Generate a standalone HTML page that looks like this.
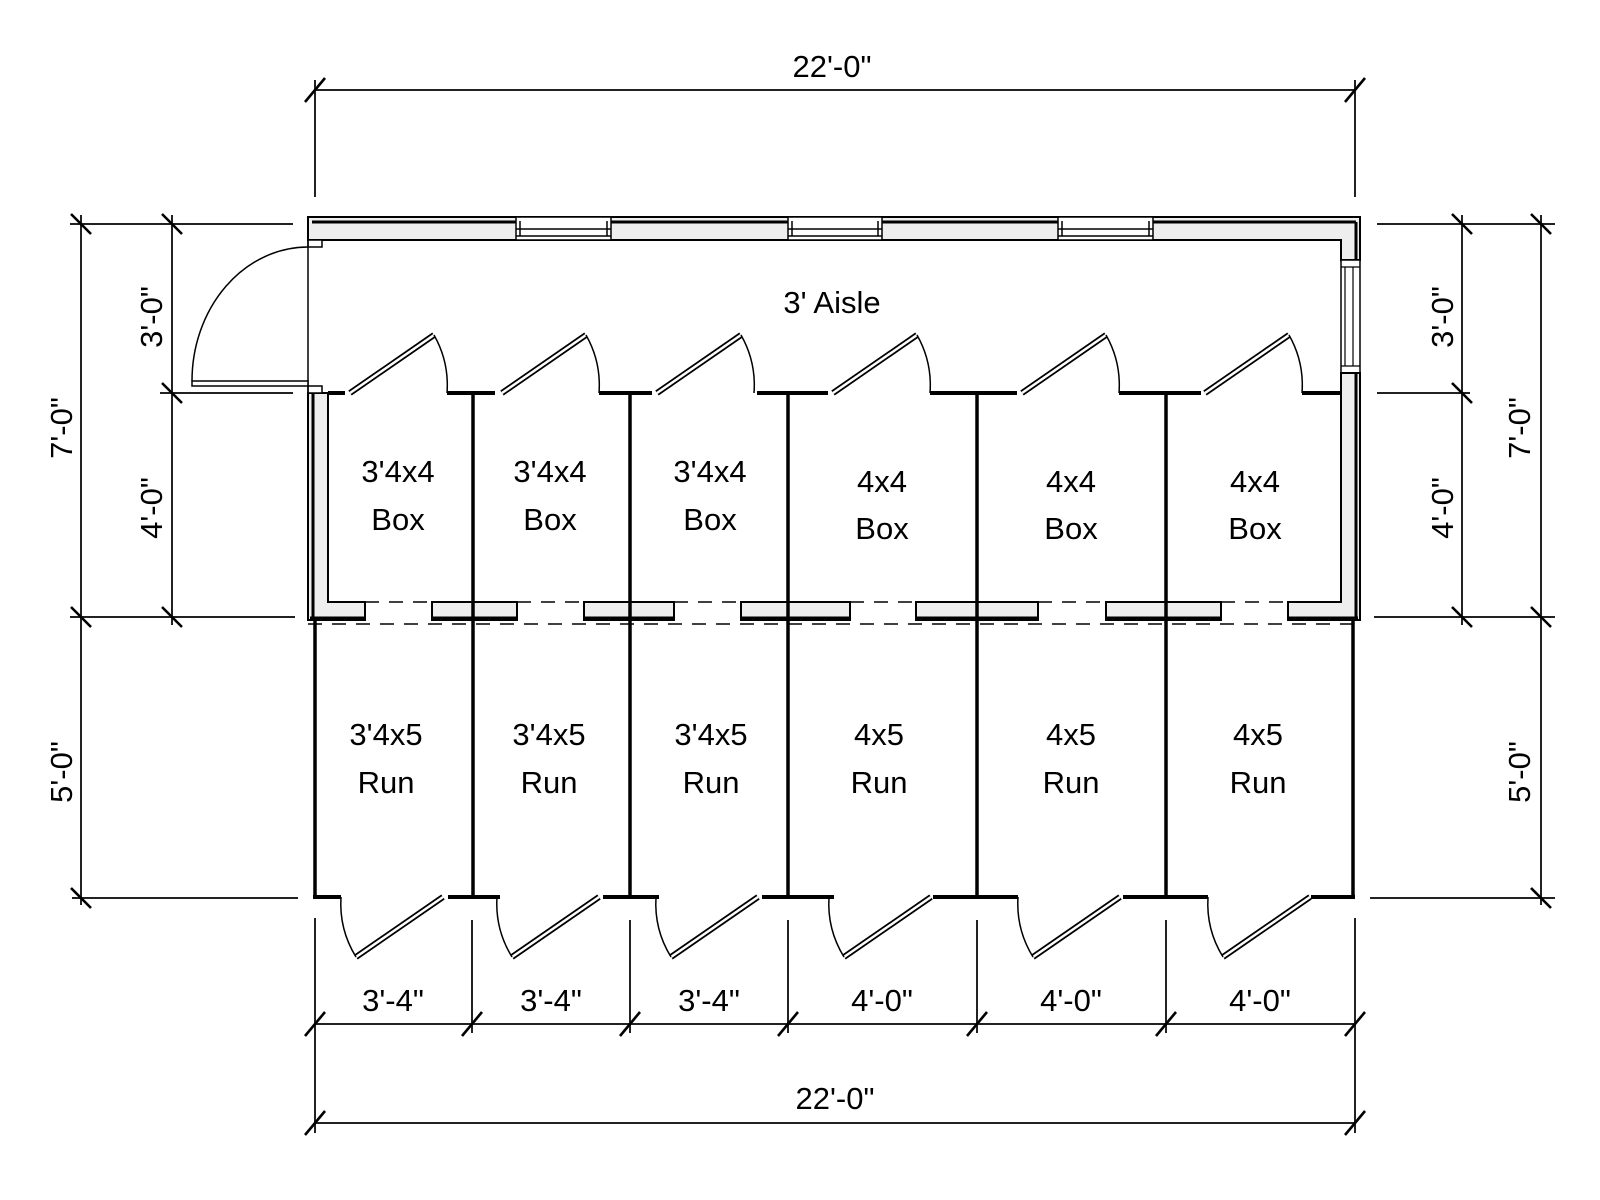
<!DOCTYPE html>
<html><head><meta charset="utf-8"><style>
html,body{margin:0;padding:0;background:#fff;}
svg{display:block;}
text{font-family:"Liberation Sans",sans-serif;fill:#000;}
</style></head><body>
<svg width="1600" height="1200" viewBox="0 0 1600 1200" xmlns="http://www.w3.org/2000/svg">
<g stroke="#222" stroke-width="2" fill="none">
<!-- top dim -->
<line x1="315" y1="90" x2="1355" y2="90"/>
<line x1="315" y1="80" x2="315" y2="197"/>
<line x1="1355" y1="80" x2="1355" y2="197"/>
<!-- left dims -->
<line x1="81" y1="215" x2="81" y2="905"/>
<line x1="172" y1="215" x2="172" y2="625"/>
<line x1="70" y1="224" x2="293" y2="224"/>
<line x1="160" y1="393" x2="293" y2="393"/>
<line x1="70" y1="617" x2="295" y2="617"/>
<line x1="72" y1="898" x2="298" y2="898"/>
<!-- right dims -->
<line x1="1462" y1="215" x2="1462" y2="625"/>
<line x1="1541" y1="215" x2="1541" y2="905"/>
<line x1="1377" y1="224" x2="1555" y2="224"/>
<line x1="1377" y1="393" x2="1470" y2="393"/>
<line x1="1374" y1="617" x2="1555" y2="617"/>
<line x1="1370" y1="898" x2="1555" y2="898"/>
<!-- bottom dims -->
<line x1="315" y1="1024" x2="1355" y2="1024"/>
<line x1="315" y1="1123" x2="1355" y2="1123"/>
<line x1="315" y1="918" x2="315" y2="1133"/>
<line x1="1355" y1="918" x2="1355" y2="1133"/>
<line x1="472" y1="920" x2="472" y2="1033"/>
<line x1="630" y1="920" x2="630" y2="1033"/>
<line x1="788" y1="920" x2="788" y2="1033"/>
<line x1="977" y1="920" x2="977" y2="1033"/>
<line x1="1166" y1="920" x2="1166" y2="1033"/>
</g>
<!-- ticks -->
<g stroke="#000" stroke-width="2.6">
<line x1="305" y1="102" x2="325" y2="78"/><line x1="1345" y1="102" x2="1365" y2="78"/>
<g id="bt">
<line x1="305" y1="1036" x2="325" y2="1012"/><line x1="462" y1="1036" x2="482" y2="1012"/><line x1="620" y1="1036" x2="640" y2="1012"/><line x1="778" y1="1036" x2="798" y2="1012"/><line x1="967" y1="1036" x2="987" y2="1012"/><line x1="1156" y1="1036" x2="1176" y2="1012"/><line x1="1345" y1="1036" x2="1365" y2="1012"/>
</g>
<line x1="305" y1="1135" x2="325" y2="1111"/><line x1="1345" y1="1135" x2="1365" y2="1111"/>
<line x1="71" y1="214" x2="91" y2="234"/><line x1="71" y1="607" x2="91" y2="627"/><line x1="71" y1="888" x2="91" y2="908"/>
<line x1="162" y1="214" x2="182" y2="234"/><line x1="162" y1="383" x2="182" y2="403"/><line x1="162" y1="607" x2="182" y2="627"/>
<line x1="1452" y1="214" x2="1472" y2="234"/><line x1="1452" y1="383" x2="1472" y2="403"/><line x1="1452" y1="607" x2="1472" y2="627"/>
<line x1="1531" y1="214" x2="1551" y2="234"/><line x1="1531" y1="607" x2="1551" y2="627"/><line x1="1531" y1="888" x2="1551" y2="908"/>
</g>

<!-- top wall -->
<rect x="308" y="217" width="1052" height="23" fill="#eee" stroke="#000" stroke-width="2"/>
<line x1="312" y1="222" x2="1356" y2="222" stroke="#000" stroke-width="3"/>
<!-- windows -->
<g fill="#fff" stroke="#000" stroke-width="1.5">
<rect x="516" y="217" width="95" height="23"/><line x1="516" y1="229" x2="611" y2="229"/><line x1="516" y1="236" x2="611" y2="236"/><line x1="520" y1="221" x2="520" y2="236"/><line x1="607" y1="221" x2="607" y2="236"/>
<rect x="788" y="217" width="94" height="23"/><line x1="788" y1="229" x2="882" y2="229"/><line x1="788" y1="236" x2="882" y2="236"/><line x1="792" y1="221" x2="792" y2="236"/><line x1="878" y1="221" x2="878" y2="236"/>
<rect x="1058" y="217" width="95" height="23"/><line x1="1058" y1="229" x2="1153" y2="229"/><line x1="1058" y1="236" x2="1153" y2="236"/><line x1="1062" y1="221" x2="1062" y2="236"/><line x1="1149" y1="221" x2="1149" y2="236"/>
</g>
<!-- right wall upper -->
<path d="M1341 239 V260 H1360 V217" fill="#eee" stroke="#000" stroke-width="2"/>
<line x1="1356" y1="222" x2="1356" y2="260" stroke="#000" stroke-width="3"/>
<rect x="1341" y="260" width="19" height="113" fill="#fff" stroke="#000" stroke-width="1.5"/>
<line x1="1345" y1="267" x2="1345" y2="366" stroke="#000" stroke-width="1.2"/>
<line x1="1353" y1="267" x2="1353" y2="366" stroke="#000" stroke-width="1.2"/>
<line x1="1341" y1="267" x2="1360" y2="267" stroke="#000" stroke-width="1.2"/>
<line x1="1341" y1="366" x2="1360" y2="366" stroke="#000" stroke-width="1.2"/>
<!-- left & right box walls (L) -->
<path d="M308 393 H328 V602 H365 V620 H308 Z" fill="#eee" stroke="#000" stroke-width="2"/>
<line x1="313" y1="393" x2="313" y2="618" stroke="#000" stroke-width="3"/>
<path d="M1341 373 H1360 V620 H1288 V602 H1341 Z" fill="#eee" stroke="#000" stroke-width="2"/>
<line x1="1356" y1="373" x2="1356" y2="618" stroke="#000" stroke-width="3"/>
<!-- left door jambs and entry door -->
<rect x="308" y="240" width="14" height="7" fill="#fff" stroke="#000" stroke-width="1.5"/>
<rect x="308" y="386" width="14" height="7" fill="#fff" stroke="#000" stroke-width="1.5"/>
<line x1="308" y1="240" x2="308" y2="393" stroke="#000" stroke-width="1.5"/>
<rect x="192" y="381" width="116" height="5" fill="#fff" stroke="#000" stroke-width="1.5"/>
<path d="M192 381 A116 134 0 0 1 308 247" fill="none" stroke="#000" stroke-width="1.5"/>

<!-- mid blocks -->
<g fill="#eee" stroke="#000" stroke-width="2">
<rect x="432" y="602" width="85" height="18"/><rect x="584" y="602" width="90" height="18"/><rect x="741" y="602" width="109" height="18"/><rect x="916" y="602" width="122" height="18"/><rect x="1106" y="602" width="115" height="18"/>
</g>
<g stroke="#000" stroke-width="3">
<line x1="310" y1="618" x2="365" y2="618"/><line x1="432" y1="618" x2="517" y2="618"/><line x1="584" y1="618" x2="674" y2="618"/><line x1="741" y1="618" x2="850" y2="618"/><line x1="916" y1="618" x2="1038" y2="618"/><line x1="1106" y1="618" x2="1221" y2="618"/><line x1="1288" y1="618" x2="1358" y2="618"/>
</g>
<g stroke="#000" stroke-width="1.5">
<line x1="308" y1="624" x2="1358" y2="624" stroke-dasharray="14 10"/>
<line x1="365" y1="602" x2="432" y2="602" stroke-dasharray="14 10"/><line x1="517" y1="602" x2="584" y2="602" stroke-dasharray="14 10"/><line x1="674" y1="602" x2="741" y2="602" stroke-dasharray="14 10"/><line x1="850" y1="602" x2="916" y2="602" stroke-dasharray="14 10"/><line x1="1038" y1="602" x2="1106" y2="602" stroke-dasharray="14 10"/><line x1="1221" y1="602" x2="1288" y2="602" stroke-dasharray="14 10"/>
</g>
<!-- partitions -->
<g stroke="#000" stroke-width="3.5">
<line x1="473" y1="393" x2="473" y2="897"/><line x1="630" y1="393" x2="630" y2="897"/><line x1="788" y1="393" x2="788" y2="897"/><line x1="977" y1="393" x2="977" y2="897"/><line x1="1166" y1="393" x2="1166" y2="897"/>
<line x1="315" y1="620" x2="315" y2="897"/><line x1="1353" y1="620" x2="1353" y2="897"/>
</g>
<!-- box front walls -->
<g stroke="#000" stroke-width="4">
<line x1="328" y1="393" x2="345" y2="393"/><line x1="447" y1="393" x2="495" y2="393"/><line x1="599" y1="393" x2="652" y2="393"/><line x1="757" y1="393" x2="828" y2="393"/><line x1="930" y1="393" x2="1017" y2="393"/><line x1="1119" y1="393" x2="1201" y2="393"/><line x1="1302" y1="393" x2="1341" y2="393"/>
<!-- run bottom walls -->
<line x1="313" y1="897" x2="341" y2="897"/><line x1="448" y1="897" x2="500" y2="897"/><line x1="603" y1="897" x2="659" y2="897"/><line x1="762" y1="897" x2="834" y2="897"/><line x1="933" y1="897" x2="1018" y2="897"/><line x1="1123" y1="897" x2="1208" y2="897"/><line x1="1311" y1="897" x2="1355" y2="897"/>
</g>
<!-- box doors (up) -->
<g fill="none">
<g id="d1">
<line x1="350" y1="393" x2="434" y2="335" stroke="#000" stroke-width="6"/><line x1="350" y1="393" x2="434" y2="335" stroke="#fff" stroke-width="2.5"/>
<path d="M434 335 A102 102 0 0 1 447 393" stroke="#000" stroke-width="1.5"/>
</g>
<use href="#d1" x="152"/><use href="#d1" x="307"/><use href="#d1" x="483"/><use href="#d1" x="672"/><use href="#d1" x="855"/>
<!-- run doors (down) -->
<g id="r1">
<line x1="443" y1="897" x2="356" y2="957" stroke="#000" stroke-width="6"/><line x1="443" y1="897" x2="356" y2="957" stroke="#fff" stroke-width="2.5"/>
<path d="M341 897 A102 102 0 0 0 356 957" stroke="#000" stroke-width="1.5"/>
</g>
<use href="#r1" x="156"/><use href="#r1" x="315"/><use href="#r1" x="488"/><use href="#r1" x="677"/><use href="#r1" x="867"/>
</g>

<!-- labels -->
<g font-size="31" text-anchor="middle">
<text x="832" y="313">3' Aisle</text>
<text x="398" y="482">3'4x4</text><text x="398" y="530">Box</text>
<text x="550" y="482">3'4x4</text><text x="550" y="530">Box</text>
<text x="710" y="482">3'4x4</text><text x="710" y="530">Box</text>
<text x="882" y="492">4x4</text><text x="882" y="539">Box</text>
<text x="1071" y="492">4x4</text><text x="1071" y="539">Box</text>
<text x="1255" y="492">4x4</text><text x="1255" y="539">Box</text>
<text x="386" y="745">3'4x5</text><text x="386" y="793">Run</text>
<text x="549" y="745">3'4x5</text><text x="549" y="793">Run</text>
<text x="711" y="745">3'4x5</text><text x="711" y="793">Run</text>
<text x="879" y="745">4x5</text><text x="879" y="793">Run</text>
<text x="1071" y="745">4x5</text><text x="1071" y="793">Run</text>
<text x="1258" y="745">4x5</text><text x="1258" y="793">Run</text>
<text x="832" y="77">22'-0"</text>
<text x="393" y="1011">3'-4"</text><text x="551" y="1011">3'-4"</text><text x="709" y="1011">3'-4"</text>
<text x="882" y="1011">4'-0"</text><text x="1071" y="1011">4'-0"</text><text x="1260" y="1011">4'-0"</text>
<text x="835" y="1109">22'-0"</text>
<text transform="translate(162,317) rotate(-90)">3'-0"</text>
<text transform="translate(162,508) rotate(-90)">4'-0"</text>
<text transform="translate(72,428) rotate(-90)">7'-0"</text>
<text transform="translate(72,772) rotate(-90)">5'-0"</text>
<text transform="translate(1453,317) rotate(-90)">3'-0"</text>
<text transform="translate(1453,508) rotate(-90)">4'-0"</text>
<text transform="translate(1530,428) rotate(-90)">7'-0"</text>
<text transform="translate(1530,772) rotate(-90)">5'-0"</text>
</g>
</svg>
</body></html>
